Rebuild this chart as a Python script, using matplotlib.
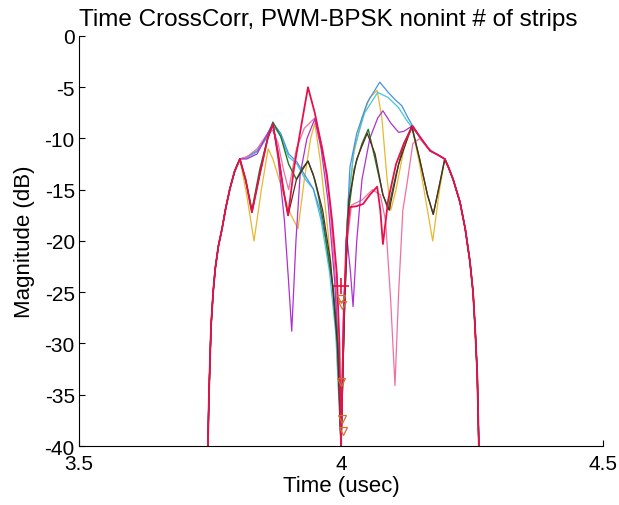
import matplotlib
matplotlib.use('Agg')
import matplotlib.pyplot as plt
import numpy as np

# shared skirts of every curve
env_left_x = [3.746, 3.748, 3.752, 3.756, 3.760, 3.766, 3.773, 3.780, 3.788, 3.797, 3.807]
env_left_y = [-40, -35, -28.3, -25, -22.7, -20.5, -18.8, -16.8, -14.9, -13.2, -12.0]
env_right_x = [4.198, 4.205, 4.214, 4.227, 4.237, 4.246, 4.252, 4.256, 4.260, 4.263]
env_right_y = [-12.0, -12.8, -14.0, -16.2, -18.8, -22.0, -25, -28.6, -33, -40]

# middle parts of each curve
blue_x = [3.820, 3.840, 3.855, 3.870, 3.885, 3.900, 3.916, 3.930, 3.947, 3.960, 3.975, 3.985, 3.995, 4.000,
          4.005, 4.010, 4.017, 4.030, 4.050, 4.074, 4.090, 4.105, 4.116, 4.128, 4.137, 4.150, 4.170, 4.185]
blue_y = [-11.8, -11.2, -10.0, -8.5, -9.5, -11.5, -12.3, -13.5, -14.9, -17, -21, -25, -32, -40,
          -30, -20, -12.8, -9.5, -6.5, -4.5, -5.5, -6.3, -6.8, -8.0, -8.8, -9.8, -11.2, -11.6]

cyan_x = [3.820, 3.840, 3.855, 3.870, 3.885, 3.900, 3.916, 3.932, 3.947, 3.962, 3.978, 3.990, 4.000,
          4.006, 4.014, 4.025, 4.045, 4.070, 4.090, 4.110, 4.125, 4.140, 4.160, 4.180]
cyan_y = [-11.9, -11.3, -10.2, -8.7, -9.8, -11.8, -12.5, -14.0, -14.9, -18, -23, -29, -40,
          -27, -16, -11, -7.5, -5.5, -6.0, -7.0, -8.2, -9.2, -10.6, -11.5]

green_x = [3.820, 3.830, 3.845, 3.860, 3.870, 3.885, 3.900, 3.915, 3.925, 3.937, 3.947, 3.956, 3.966, 3.975, 3.985, 3.994, 4.000,
           4.006, 4.012, 4.025, 4.040, 4.052, 4.065, 4.080, 4.090, 4.105, 4.120, 4.135, 4.150, 4.165, 4.176, 4.188]
green_y = [-14.5, -17.0, -13, -10, -8.4, -9.8, -12.5, -14.0, -13.0, -12.2, -13.5, -15.4, -18, -21.3, -24.5, -30, -40,
           -28, -18, -13, -10.5, -9.1, -12, -15.5, -16.9, -13.5, -10.5, -8.8, -12, -15.5, -17.4, -14.5]

dark_x = [3.818, 3.830, 3.845, 3.860, 3.870, 3.880, 3.890, 3.899, 3.915, 3.937, 3.950, 3.965, 3.980, 3.993, 4.000,
          4.007, 4.015, 4.030, 4.050, 4.065, 4.080, 4.092, 4.110, 4.135, 4.150, 4.165, 4.176, 4.188]
dark_y = [-14, -17.2, -13.5, -10, -8.6, -11.5, -15, -17.5, -14, -12.2, -14, -17, -22, -30, -40,
          -26, -16, -12, -9.5, -11.5, -15.5, -17.0, -12.5, -8.8, -12, -15.5, -17.4, -14.5]

yellow_x = [3.820, 3.834, 3.848, 3.861, 3.870, 3.885, 3.900, 3.918, 3.930, 3.942, 3.950, 3.960, 3.975, 3.990, 4.000,
            4.006, 4.010, 4.023, 4.040, 4.055, 4.069, 4.078, 4.088, 4.095, 4.105, 4.120, 4.135, 4.150, 4.165, 4.175, 4.188]
yellow_y = [-15.5, -20.0, -15, -11.0, -12, -14.5, -17, -18.8, -14, -10, -8.5, -12, -19, -28, -40,
            -28, -20, -11.8, -8, -6, -5.3, -8, -14, -17, -15, -11, -8.8, -12.5, -17, -20, -15]

red_x = [3.818, 3.830, 3.845, 3.860, 3.870, 3.880, 3.890, 3.899, 3.910, 3.925, 3.937, 3.950, 3.962, 3.973, 3.983, 3.992, 3.997, 4.000,
         4.005, 4.010, 4.017, 4.030, 4.042, 4.055, 4.069, 4.075, 4.080, 4.090, 4.105, 4.120, 4.137, 4.150, 4.170, 4.185]
red_y = [-14, -17.2, -13.5, -10, -8.6, -11.5, -15, -17.5, -13, -8.5, -5.0, -7.5, -10.5, -13.5, -18, -23.2, -30, -40,
         -28, -20, -16.7, -16.6, -16.4, -15.5, -14.7, -17, -20.3, -16, -12.5, -10.5, -8.8, -9.8, -11.2, -11.6]

magenta_x = [3.820, 3.840, 3.855, 3.870, 3.880, 3.892, 3.900, 3.906, 3.914, 3.922, 3.935, 3.950, 3.962, 3.975, 3.988, 3.996, 4.000,
             4.005, 4.012, 4.018, 4.023, 4.030, 4.040, 4.055, 4.070, 4.080, 4.095, 4.110, 4.120, 4.135, 4.150, 4.170, 4.185]
magenta_y = [-12, -11.5, -10, -8.6, -12, -18, -24, -28.8, -20, -13.5, -10, -8.1, -11, -16, -24, -32, -40,
             -26, -20, -23, -26.4, -20, -14, -10, -8, -7.3, -8.5, -9.4, -9.3, -8.8, -9.8, -11.2, -11.6]

pink_x = [3.820, 3.840, 3.860, 3.870, 3.880, 3.890, 3.900, 3.915, 3.930, 3.950, 3.965, 3.978, 3.990, 4.000,
          4.005, 4.012, 4.020, 4.040, 4.060, 4.075, 4.085, 4.095, 4.103, 4.110, 4.118, 4.126, 4.137, 4.150, 4.170, 4.185]
pink_y = [-11.8, -11, -9.5, -9.2, -10.5, -13, -15, -11, -9, -8.0, -11, -16, -24, -40,
          -28, -20, -16.5, -16, -15, -15.5, -18, -26, -34.1, -25, -17, -14.4, -10.5, -10, -11.2, -11.6]

# null markers at t = 4 usec
null_plus_x = [4.0]
null_plus_y = [-24.4]
null_tri_x = [4.0, 4.002, 4.0, 4.002, 4.003]
null_tri_y = [-25.7, -26.2, -33.8, -37.4, -38.5]

curves = [
    (yellow_x, yellow_y, '#e8b830', 0.9),
    (cyan_x, cyan_y, '#40c8d8', 0.9),
    (blue_x, blue_y, '#4a90e0', 0.9),
    (pink_x, pink_y, '#f070a0', 0.9),
    (magenta_x, magenta_y, '#b030d0', 0.9),
    (green_x, green_y, '#1a7a2a', 1.0),
    (dark_x, dark_y, '#5a2a20', 0.9),
    (red_x, red_y, '#e8104a', 1.3),
]

plt.rcParams['font.family'] = ['Liberation Sans', 'DejaVu Sans']
plt.rcParams['axes.unicode_minus'] = False
fig = plt.figure(figsize=(6.19, 5.06), dpi=100)
ax = fig.add_axes([0.1276, 0.1166, 0.8466, 0.8103])

for cx, cy, col, lw in curves:
    x = np.array(env_left_x + cx + env_right_x)
    y = np.array(env_left_y + cy + env_right_y)
    ax.plot(x, y, color=col, lw=lw)

ax.plot(null_plus_x, null_plus_y, '+', color='#e8103a', ms=12, mew=1.2)
ax.plot(null_tri_x, null_tri_y, 'v', mfc='none', mec='#d07030', ms=6, mew=0.9)

ax.set_xlim(3.5, 4.5)
ax.set_ylim(-40, 0)
ax.set_xticks([3.5, 4, 4.5])
ax.set_xticklabels(['3.5', '4', '4.5'])
ax.set_yticks(np.arange(-40, 1, 5))
ax.spines['top'].set_visible(False)
ax.spines['right'].set_visible(False)
ax.tick_params(direction='in', length=4, labelsize=15)
ax.tick_params(axis='x', pad=6)
ax.tick_params(axis='y', pad=3)
ax.set_xlabel('Time (usec)', fontsize=16, labelpad=1)
ax.set_ylabel('Magnitude (dB)', fontsize=16, labelpad=7)
ax.set_title('Time CrossCorr, PWM-BPSK nonint # of strips', fontsize=17.5, pad=8, x=0.475)

fig.savefig('out.png', dpi=100)
